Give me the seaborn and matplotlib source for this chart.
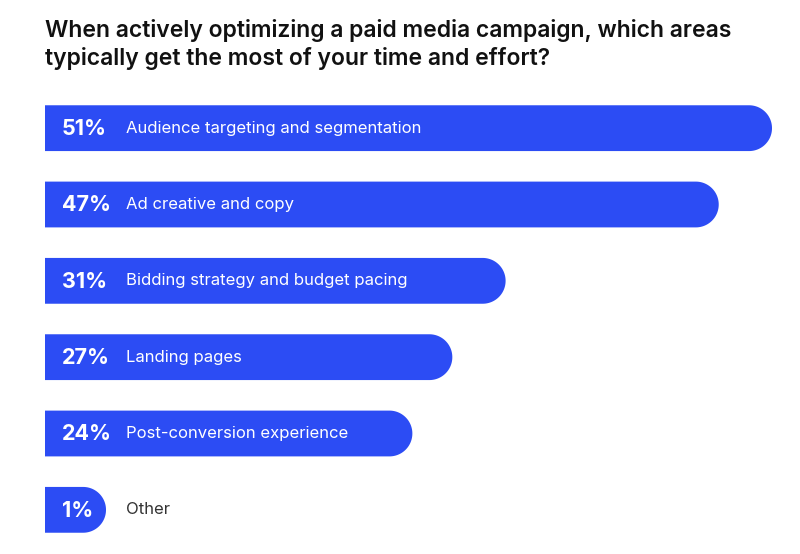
import matplotlib
matplotlib.use("Agg")
import matplotlib.pyplot as plt
from matplotlib.patches import Polygon
import seaborn as sns
import pandas as pd
import numpy as np

# data
categorias = [
    "Audience targeting and segmentation",
    "Ad creative and copy",
    "Bidding strategy and budget pacing",
    "Landing pages",
    "Post-conversion experience",
    "Other",
]
porcentajes = [51, 47, 31, 27, 24, 1]
etiquetas = ["51%", "47%", "31%", "27%", "24%", "1%"]
titulo = [
    "When actively optimizing a paid media campaign, which areas",
    "typically get the most of your time and effort?",
]

AZUL = "#2c4cf4"
OFFSET = 3.58  # space reserved at the left of every bar for the % label

sns.set_theme(style="white")
plt.rcParams["font.family"] = ["Inter", "DejaVu Sans"]

df = pd.DataFrame({"categoria": categorias, "pct": porcentajes})
df["largo"] = df["pct"] + OFFSET

W, H = 800, 554
fig = plt.figure(figsize=(W / 100, H / 100), dpi=100)
ax = fig.add_axes([45 / W, 6 / H, (W - 45) / W, 458 / H])

sns.barplot(data=df, x="largo", y="categoria", color=AZUL, width=0.6,
            orient="h", ax=ax, saturation=1)
ax.set_xlim(0, (W - 45) / 13.32)
ax.set_ylim(5.5, -0.5)
ax.axis("off")

# rounded right ends: rebuild every seaborn bar as one outline whose right
# side is a half circle on screen
bb = ax.get_window_extent()
px_x = bb.width / (ax.get_xlim()[1] - ax.get_xlim()[0])
px_y = bb.height / 6.0
ang = np.linspace(-np.pi / 2, np.pi / 2, 60)
for p in list(ax.patches):
    x0, w = p.get_x(), p.get_width()
    h = abs(p.get_height())
    yc = p.get_y() + p.get_height() / 2
    r_y = h / 2
    r_x = r_y * px_y / px_x
    cx = x0 + w - r_x
    arco = np.column_stack([cx + r_x * np.cos(ang), yc + r_y * np.sin(ang)])
    pts = np.vstack([[x0, yc - r_y], arco, [x0, yc + r_y]])
    p.remove()
    ax.add_patch(Polygon(pts, closed=True, facecolor=AZUL, edgecolor="none",
                         linewidth=0))

trans = ax.get_yaxis_transform()
for i, (cat, lab) in enumerate(zip(categorias, etiquetas)):
    ax.text(17 / (W - 45), i + 0.01, lab, transform=trans, ha="left", va="center",
            color="white", fontsize=15.5, fontweight="bold")
    color_cat = "white" if porcentajes[i] > 5 else "#333333"
    ax.text(81 / (W - 45), i, cat, transform=trans, ha="left", va="center",
            color=color_cat, fontsize=12.0)

for linea, base in zip(titulo, [37, 65]):
    fig.text(45 / W, 1 - base / H, linea, ha="left", va="baseline",
             fontsize=16.5, fontweight="semibold", color="#111111")

fig.savefig("out.png", dpi=100, facecolor="white")
